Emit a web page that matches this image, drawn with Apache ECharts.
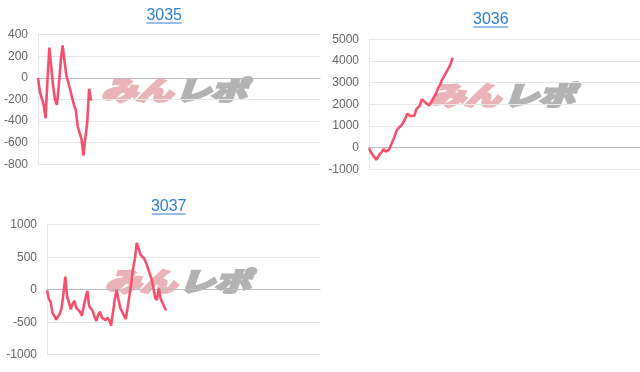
<!DOCTYPE html>
<html><head><meta charset="utf-8">
<script src="https://cdn.jsdelivr.net/npm/echarts@6/dist/echarts.min.js"></script>
<style>html,body{margin:0;padding:0;background:#fff}#c{width:640px;height:372px}</style>
</head><body><div id="c"></div>
<script>
const titles = ['3035', '3036', '3037'];
const categoryCount = 150;
const categories = Array.from({length: categoryCount}, (_, i) => String(i + 1));

const series3035 = [0, -130, -135, -250, -375, -20, 280, 100, -80, -200, -250, -70, 150, 300, 160, 20, -40, -45, -180, -250, -300, -450, -460, -570, -720, -560, -420, -100, -210];

const series3036 = [-30, -200, -330, -440, -560, -420, -300, -200, -60, -180, -140, -100, 100, 300, 480, 750, 880, 940, 1050, 1180, 1350, 1560, 1520, 1450, 1440, 1480, 1770, 1840, 1950, 2230, 2150, 2080, 2000, 1950, 2000, 2200, 2380, 2520, 2750, 2880, 3100, 3250, 3400, 3550, 3700, 3900, 4150];

const series3037 = [-10, -140, -190, -360, -400, -460, -430, -370, -280, -50, 200, -110, -200, -300, -220, -170, -280, -280, -340, -400, -400, -130, -20, -250, -220, -330, -420, -480, -380, -340, -430, -410, -470, -430, -470, -550, -350, -150, 0, -150, -280, -340, -400, -450, -280, -90, 100, 330, 480, 720, 640, 540, 530, 480, 420, 340, 250, 170, 40, -120, -160, 20, -130, -200, -210, -320];

const ticks3035 = [-800, -600, -400, -200, 0, 200, 400];
const ticks3036 = [-1000, 0, 1000, 2000, 3000, 4000, 5000];
const ticks3037 = [-1000, -500, 0, 500, 1000];

const seriesList = [series3035, series3036, series3037];
const tickList = [ticks3035, ticks3036, ticks3037];

const grids = [
  {left: 38, top: 34.7, width: 282, height: 129.6},
  {left: 369, top: 39.3, width: 271, height: 130},
  {left: 47, top: 224.7, width: 273, height: 130}
];
const titlePos = [
  {cx: 164.2, top: 7.5, ul: [146.7, 181.7, 23]},
  {cx: 490.8, top: 11.5, ul: [473.3, 508.3, 27]},
  {cx: 168.7, top: 198.5, ul: [151.7, 185.7, 214]}
];
const logoPos = [
  {x: 101, y: 90},
  {x: 429, y: 95},
  {x: 105, y: 281}
];

const lineColor = '#f5516f';
const chart = echarts.init(document.getElementById('c'), null, {renderer: 'canvas'});

const graphic = [];
titlePos.forEach(t => {
  graphic.push({type: 'line', shape: {x1: t.ul[0], y1: t.ul[2], x2: t.ul[1], y2: t.ul[2]}, style: {stroke: '#2f7fd0', lineWidth: 1}, z: 10});
});
const logoFont = 'italic bold 34px "Noto Sans CJK JP"';
logoPos.forEach(p => {
  graphic.push({type: 'text', x: p.x, y: p.y, scaleX: 1.05, scaleY: 0.76, z: 0, silent: true,
    style: {text: 'みん', font: logoFont, fill: '#eab3b7', stroke: '#eab3b7', lineWidth: 4, lineJoin: 'round', textAlign: 'left', textVerticalAlign: 'middle'}});
  graphic.push({type: 'text', x: p.x + 74, y: p.y, scaleX: 1.05, scaleY: 0.76, z: 0, silent: true,
    style: {text: 'レポ', font: logoFont, fill: '#b3b3b3', stroke: '#b3b3b3', lineWidth: 4, lineJoin: 'round', textAlign: 'left', textVerticalAlign: 'middle'}});
});

const option = {
  animation: false,
  title: titles.map((t, i) => ({
    text: t, left: titlePos[i].cx, top: titlePos[i].top, textAlign: 'center', padding: 0,
    textStyle: {color: '#2f7fd0', fontSize: 16, fontWeight: 'normal', fontFamily: '"Liberation Sans", Arial, sans-serif'}
  })),
  grid: grids,
  graphic: graphic,
  xAxis: grids.map((g, i) => ({
    type: 'category', gridIndex: i, data: categories, boundaryGap: false,
    axisLine: {show: true, onZero: true, lineStyle: {color: '#bdbdbd', width: 1}},
    axisTick: {show: false}, axisLabel: {show: false}, splitLine: {show: false}
  })),
  yAxis: tickList.map((tk, i) => ({
    type: 'value', gridIndex: i,
    min: tk[0], max: tk[tk.length - 1], interval: tk[1] - tk[0],
    axisLine: {show: true, lineStyle: {color: '#e6e6e6'}},
    axisTick: {show: false},
    axisLabel: {color: '#666', fontSize: 12, margin: 10, fontFamily: '"Liberation Sans", Arial, sans-serif', formatter: v => String(v)},
    splitLine: {show: true, lineStyle: {color: '#e6e6e6', width: 1}}
  })),
  series: seriesList.map((d, i) => ({
    type: 'line', xAxisIndex: i, yAxisIndex: i, data: d, showSymbol: false, symbol: 'none',
    lineStyle: {color: lineColor, width: 2.6}, z: 5
  }))
};
chart.setOption(option);
</script>
</body></html>
